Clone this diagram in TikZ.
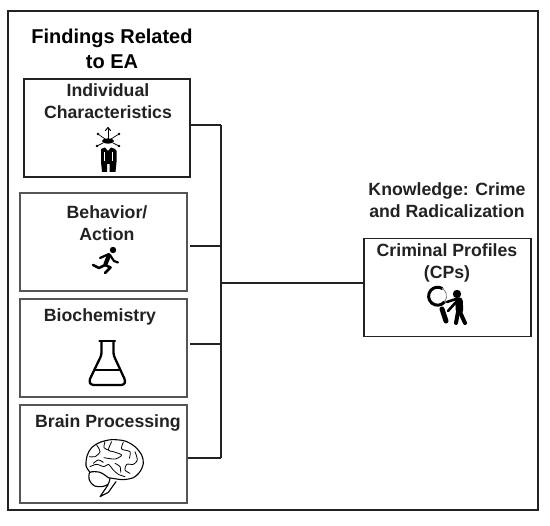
\documentclass[tikz,border=0pt]{standalone}
\usepackage{fontspec}
\setmainfont{Liberation Sans}
\usetikzlibrary{positioning}
\definecolor{inkc}{HTML}{222222}
\definecolor{edgec}{HTML}{555555}
\tikzset{
  boxa/.style={draw=inkc, line width=1.1pt, minimum width=166pt, minimum height=98pt, inner sep=0pt},
  boxb/.style={draw=edgec, line width=1.4pt, minimum width=167pt, minimum height=98pt, inner sep=0pt},
  lbl/.style={font=\bfseries\fontsize{17.7}{22}\selectfont, text=inkc, align=center, inner sep=0pt},
  head/.style={font=\bfseries\fontsize{20}{25}\selectfont, text=black, align=center, inner sep=0pt},
  wire/.style={draw=inkc, line width=1.1pt},
  icon/.style={draw=black, line cap=round, line join=round},
}
\begin{document}
\begin{tikzpicture}[x=1pt, y=-1pt]
\useasboundingbox (0,0) rectangle (550,526);
%
\node (Frame) [draw=inkc, line width=1.5pt, minimum width=530pt, minimum height=499pt] at (273,260.5) {};
%
\node (Findings) [head] at (112,48.5) {Findings Related\\to EA};
\node (Knowledge) [lbl] at (447,200.5) {Knowledge: Crime\\and Radicalization};
%
\node (Traits) [boxa] at (107,128) {};
\node (Behavior) [boxb] at (103.5,242) {};
\node (Biochem) [boxb] at (103.5,348) {};
\node (Brain) [boxb] at (103.5,454) {};
\node (Profiles) [boxa, minimum width=167pt] at (447.5,287.5) {};
%
\node (TraitsText) [lbl] at (108,101.5) {Individual\\Characteristics};
\node (BehaviorText) [lbl] at (107,223) {Behavior/\\Action};
\node (BiochemText) [lbl] at (100,317) {Biochemistry};
\node (BrainText) [lbl] at (108,423) {Brain Processing};
\node (ProfilesText) [lbl] at (447,263) {Criminal Profiles\\(CPs)};
%
\coordinate (J1) at (221,125);
\coordinate (J2) at (221,246);
\coordinate (J3) at (221,344);
\coordinate (J4) at (221,458);
\coordinate (J5) at (221,283);
\coordinate (S2) at (190,246);
\coordinate (S3) at (190,344);
%
\path[wire] (Traits.east |- J1) edge (J1);
\path[wire] (S2) edge (J2);
\path[wire] (S3) edge (J3);
\path[wire] (Brain.east |- J4) edge (J4);
\path[wire] (J1) edge (J4);
\path[wire] (J5) edge (Profiles.west |- J5);
%
% person with arrows
\fill (108,141) ellipse (6 and 2.6);
\draw[icon, line width=1pt] (108,128) -- (108,141);
\draw[icon, line width=1pt] (105.5,130.5) -- (108,127.5) -- (110.5,130.5);
\draw[icon, line width=0.7pt] (98,134) -- (105,139) (119,134) -- (111,139);
\draw[icon, line width=0.7pt] (97,146) -- (103,143) (119,146) -- (113,143);
\fill (98,134) circle (1.3) (119,134) circle (1.3) (97,146) circle (1.3) (119,146) circle (1.3);
\fill (101,149) -- (105,147.5) -- (108,151) -- (111,147.5) -- (115,149) -- (116.5,151)
  -- (116.5,162) -- (115.5,172) -- (109.5,172) -- (109.5,164) -- (107,164) -- (107,172)
  -- (102,172) -- (101,162) -- cycle;
\draw[white, line width=0.6pt] (104,152) -- (104,161) (112.5,152) -- (112.5,161);
%
% runner
\fill (113,250) circle (3.2);
\draw[icon, line width=4.2pt] (109,255.5) -- (105.5,264);
\draw[icon, line width=2.2pt] (109,254) -- (100,258);
\draw[icon, line width=2.2pt] (110,255) -- (114,261) -- (118,262.5);
\draw[icon, line width=2.6pt] (105,265) -- (99,268) -- (93,265);
\draw[icon, line width=2.6pt] (105,265) -- (110.5,267.5) -- (105,273);
%
% flask
\draw[icon, line width=2.3pt] (99.5,341) -- (115,341);
\draw[icon, line width=2.3pt, rounded corners=2.5pt] (101.5,341) -- (101.5,355) -- (89,381) -- (91,385)
  -- (124,385) -- (125.5,381) -- (113.5,355) -- (113.5,341);
\draw[icon, line width=2.3pt] (95.5,370) -- (119,370);
%
% brain
\begin{scope}[shift={(80,435)}, scale=1/3]
\draw[icon, line width=1.1pt] plot[smooth] coordinates {(30,112) (18,92) (22,60) (35,38) (60,22)
  (95,14) (135,18) (165,35) (185,60) (190,85) (180,110) (160,128) (130,134) (110,132) (85,128)};
\draw[icon, line width=1.1pt] plot[smooth] coordinates {(85,128) (60,112) (30,112) (28,135) (42,152) (65,155) (84,148) (90,130)};
\draw[icon, line width=1.1pt] (84,150) -- (60,185) -- (85,172) -- (108,140);
\draw[icon, line width=0.8pt] plot[smooth] coordinates {(50,30) (60,50) (45,65) (28,65)};
\draw[icon, line width=0.8pt] plot[smooth] coordinates {(95,20) (85,45) (100,50) (125,60) (105,72) (72,68)};
\draw[icon, line width=0.8pt] plot[smooth] coordinates {(130,22) (125,42) (150,50) (148,70)};
\draw[icon, line width=0.8pt] plot[smooth] coordinates {(165,50) (172,75) (160,88) (140,88) (135,105) (150,115)};
\draw[icon, line width=0.8pt] plot[smooth] coordinates {(30,95) (50,88) (72,95) (85,88) (100,105) (115,118) (135,125)};
\draw[icon, line width=0.8pt] plot[smooth] coordinates {(105,85) (120,95) (122,112)};
\draw[icon, line width=0.8pt] plot[smooth] coordinates {(75,20) (72,38) (85,45)};
\draw[icon, line width=0.8pt] plot[smooth] coordinates {(40,85) (55,75) (70,82)};
\end{scope}
%
% magnifier and person
\draw[icon, line width=3pt] (444.5,302) arc (40:300:9);
\draw[icon, line width=0.8pt, gray] (444.5,302) arc (40:-60:9);
\draw[icon, line width=5pt] (442,309) -- (446,321);
\fill (457,294) circle (4.2);
\draw[icon, line width=7.5pt] (459,301) -- (459.5,310);
\draw[icon, line width=2.6pt] (456,299) -- (447,302);
\draw[icon, line width=2.6pt] (457,301) -- (448,311);
\draw[icon, line width=4pt] (458,312) -- (456,323);
\draw[icon, line width=4pt] (460,312) -- (465,323);
\end{tikzpicture}
\end{document}
